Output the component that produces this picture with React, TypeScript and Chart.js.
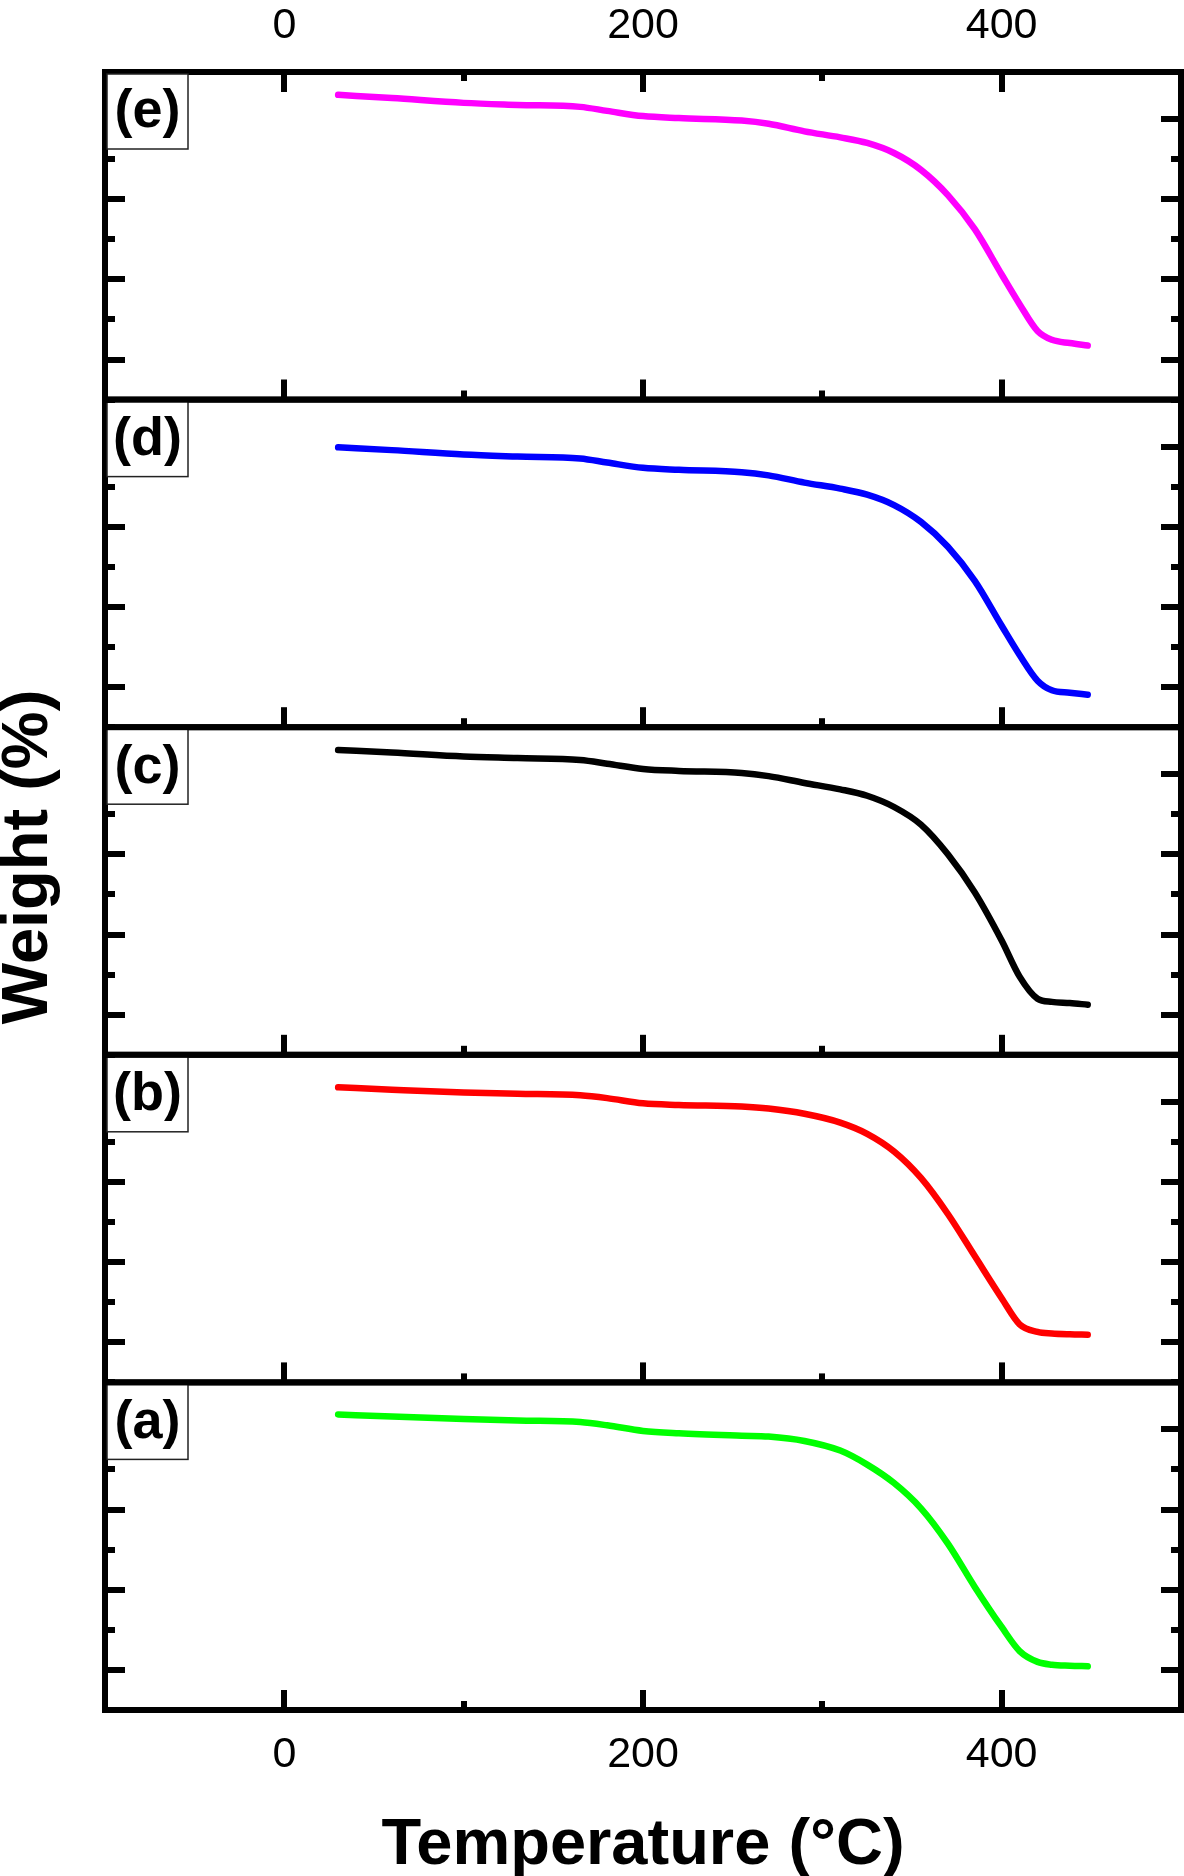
import React, { useEffect, useRef } from 'react';
import { Chart, registerables } from 'chart.js';

Chart.register(...registerables);

// ---- Data ----
const temperature = [30, 60, 100, 130, 165, 180, 200, 220, 255, 270, 290, 310, 325, 340, 355, 370, 385, 400, 410, 420, 428, 438, 448];

const weightA = [93.7, 93.2, 92.6, 92.2, 91.8, 91.0, 89.6, 89.0, 88.4, 88.2, 87.1, 84.7, 81.2, 76.6, 70.3, 61.5, 50.7, 40.7, 34.7, 32.0, 31.3, 31.05, 30.9];
const weightB = [93.6, 93.0, 92.3, 92.0, 91.6, 90.9, 89.6, 89.2, 88.8, 88.3, 87.0, 84.8, 82.0, 77.6, 71.0, 62.0, 51.5, 41.0, 34.5, 32.6, 32.2, 32.0, 31.9];
const weightC = [96.0, 95.4, 94.4, 94.0, 93.5, 92.6, 91.3, 90.8, 90.3, 89.5, 87.8, 86.2, 84.6, 81.8, 77.4, 70.0, 60.5, 48.5, 39.5, 34.0, 33.2, 32.9, 32.5];
const weightD = [89.8, 89.1, 88.0, 87.5, 87.0, 86.0, 84.7, 84.2, 83.6, 82.8, 81.0, 79.5, 78.0, 75.4, 71.2, 65.0, 56.5, 45.3, 38.0, 31.6, 29.2, 28.6, 28.1];
const weightE = [96.0, 95.2, 94.0, 93.5, 93.0, 92.0, 90.7, 90.2, 89.6, 88.8, 86.9, 85.4, 84.0, 81.5, 77.3, 71.0, 62.5, 51.2, 43.8, 37.1, 34.9, 34.1, 33.5];

const panelLabels = ['(a)', '(b)', '(c)', '(d)', '(e)'];
const xTickLabels = [0, 200, 400];
const yMajorTicks = [30, 50, 70, 90];

const X_MIN = -100;
const X_MAX = 500;
const Y_MIN = 20;
const Y_MAX = 101.7;

// ---- Styles ----
const FONT = '"Liberation Sans", Arial, Helvetica, sans-serif';
const panelColors = ['#00FF00', '#FF0000', '#000000', '#0000FF', '#FF00FF'];
const panelIds = ['yA', 'yB', 'yC', 'yD', 'yE'];
const panelSeries = [weightA, weightB, weightC, weightD, weightE];

const framePlugin = {
  id: 'panelFrames',
  afterDatasetsDraw(chart: any) {
    const ctx = chart.ctx;
    const xs = chart.scales.x;
    const left = chart.chartArea.left;
    const right = chart.chartArea.right;
    ctx.save();
    ctx.strokeStyle = '#000';
    ctx.lineCap = 'butt';

    panelIds.forEach((id, i) => {
      const ys = chart.scales[id];
      const top = ys.top;
      const bottom = ys.bottom;

      // y ticks (inward, left and right)
      ctx.lineWidth = 6;
      ys.ticks.forEach((t: any) => {
        if (Math.abs(t.value % 10) > 1e-6) return;
        const py = Math.round(ys.getPixelForValue(t.value));
        const len = yMajorTicks.includes(t.value) ? 20 : 10;
        ctx.beginPath();
        ctx.moveTo(left, py);
        ctx.lineTo(left + len, py);
        ctx.moveTo(right, py);
        ctx.lineTo(right - len, py);
        ctx.stroke();
      });

      // x ticks on bottom edge of each panel (pointing up), top edge for top panel
      xs.ticks.forEach((t: any) => {
        if (t.value <= X_MIN || t.value >= X_MAX) return;
        const px = Math.round(xs.getPixelForValue(t.value));
        const len = xTickLabels.includes(t.value) ? 20 : 9;
        ctx.beginPath();
        ctx.moveTo(px, bottom);
        ctx.lineTo(px, bottom - len);
        if (i === panelIds.length - 1) {
          ctx.moveTo(px, top);
          ctx.lineTo(px, top + len);
        }
        ctx.stroke();
      });

      // frame
      ctx.lineWidth = 6;
      ctx.strokeRect(left, top, right - left, bottom - top);

      // label box
      const bx = left + 2;
      const by = top + 2;
      const bw = 81;
      const bh = 75;
      ctx.fillStyle = '#fff';
      ctx.fillRect(bx, by, bw, bh);
      ctx.lineWidth = 1.5;
      ctx.strokeStyle = '#222';
      ctx.strokeRect(bx, by, bw, bh);
      ctx.strokeStyle = '#000';
      ctx.fillStyle = '#000';
      ctx.font = `bold 54px ${FONT}`;
      ctx.textAlign = 'center';
      ctx.textBaseline = 'middle';
      ctx.fillText(panelLabels[i], bx + bw / 2, by + bh / 2 + 1);
    });
    ctx.restore();
  },
  afterDraw(chart: any) {
    const ctx = chart.ctx;
    ctx.save();
    ctx.translate(47, 857);
    ctx.rotate(-Math.PI / 2);
    ctx.fillStyle = '#000';
    ctx.font = `bold 65px ${FONT}`;
    ctx.textAlign = 'center';
    ctx.textBaseline = 'alphabetic';
    ctx.fillText('Weight (%)', 0, 0);
    ctx.restore();
  },
};

export default function App() {
  const canvasRef = useRef<HTMLCanvasElement | null>(null);

  useEffect(() => {
    if (!canvasRef.current) return;

    const datasets = panelSeries.map((series, i) => ({
      label: panelLabels[i],
      data: temperature.map((t, k) => ({ x: t, y: series[k] })),
      borderColor: panelColors[i],
      backgroundColor: panelColors[i],
      borderWidth: 6.5,
      borderCapStyle: 'round',
      borderJoinStyle: 'round',
      pointRadius: 0,
      cubicInterpolationMode: 'monotone',
      fill: false,
      xAxisID: 'x',
      yAxisID: panelIds[i],
    }));

    const xTickCallback = (value: any) => (xTickLabels.includes(Number(value)) ? String(value) : '');
    const clearHPad = (s: any) => {
      s.paddingLeft = 0;
      s.paddingRight = 0;
    };

    const yScales: any = {};
    panelIds.forEach((id) => {
      yScales[id] = {
        type: 'linear',
        position: 'left',
        stack: 'panels',
        stackWeight: 1,
        min: Y_MIN,
        max: Y_MAX,
        ticks: { display: false, stepSize: 10 },
        grid: { display: false, drawTicks: false },
        border: { display: false },
        afterFit: (s: any) => {
          s.width = 0;
          s.paddingTop = 0;
          s.paddingBottom = 0;
        },
      };
    });

    const chart = new Chart(canvasRef.current, {
      type: 'line',
      data: { datasets } as any,
      options: {
        responsive: false,
        devicePixelRatio: 1,
        animation: false,
        layout: { padding: { left: 105, right: 3, top: 0, bottom: 0 } },
        plugins: { legend: { display: false }, tooltip: { enabled: false } },
        scales: {
          x: {
            type: 'linear',
            position: 'bottom',
            min: X_MIN,
            max: X_MAX,
            ticks: {
              stepSize: 100,
              autoSkip: false,
              maxRotation: 0,
              padding: 19,
              color: '#000',
              font: { family: FONT, size: 43 },
              callback: xTickCallback,
            },
            grid: { display: false, drawTicks: false },
            border: { display: false },
            title: {
              display: true,
              text: 'Temperature (°C)',
              color: '#000',
              font: { family: FONT, size: 65, weight: 'bold' },
              padding: { top: 0, bottom: -9 },
            },
            afterFit: (s: any) => {
              s.height = 166;
              clearHPad(s);
            },
          },
          x2: {
            type: 'linear',
            position: 'top',
            min: X_MIN,
            max: X_MAX,
            ticks: {
              stepSize: 100,
              autoSkip: false,
              maxRotation: 0,
              padding: 20,
              color: '#000',
              font: { family: FONT, size: 43 },
              callback: xTickCallback,
            },
            grid: { display: false, drawTicks: false },
            border: { display: false },
            afterFit: (s: any) => {
              s.height = 72;
              clearHPad(s);
            },
          },
          ...yScales,
        },
      } as any,
      plugins: [framePlugin],
    });

    return () => {
      chart.destroy();
    };
  }, []);

  return (
    <div style={{ position: 'absolute', left: 0, top: 0, width: 1184, height: 1876, background: '#fff' }}>
      <canvas ref={canvasRef} width={1184} height={1876} style={{ display: 'block' }} />
    </div>
  );
}
